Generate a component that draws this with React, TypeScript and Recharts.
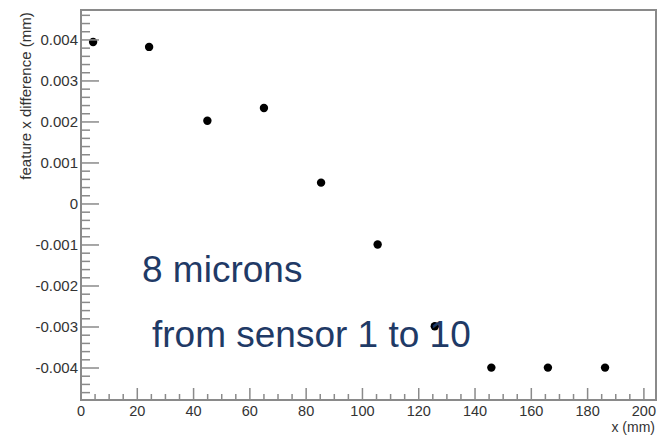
import React from 'react';
import {ReferenceArea, Scatter, ScatterChart, XAxis, YAxis} from 'recharts';

// sensor positions (mm) and measured feature x difference (mm)
const sensorX = [4.3, 24.2, 44.9, 65.0, 85.3, 105.4, 125.7, 145.8, 165.9, 186.2];
const featureDiff = [
  0.00395, 0.00383, 0.00203, 0.00234, 0.00052, -0.00099, -0.00298, -0.00399,
  -0.00399, -0.00399,
];

const xMajorTicks = [0, 20, 40, 60, 80, 100, 120, 140, 160, 180, 200];
const yMajorTicks = [-0.004, -0.003, -0.002, -0.001, 0, 0.001, 0.002, 0.003, 0.004];
const yTickLabels = ['-0.004', '-0.003', '-0.002', '-0.001', '0', '0.001', '0.002', '0.003', '0.004'];

const xDomain = [0, 204.3];
const yDomain = [-0.00478, 0.00473];

// minor ticks every 5 mm / every 0.0002 mm, majors keep labels
const xTicks = Array.from({length: 41}, (_, i) => i * 5);
const yTicks = Array.from({length: 47}, (_, i) => Math.round((i - 23) * 2) / 10000);

const data = sensorX.map((x, i) => ({x, y: featureDiff[i]}));

const FRAME = '#8a8a8a';
const LABEL = '#333333';
const FONT = '"Liberation Sans", Arial, sans-serif';
const NOTE = '#1f3a66';

const XTick = (props: any) => {
  const {x, y, payload} = props;
  const v = payload.value;
  const major = xMajorTicks.includes(v);
  return (
    <g>
      <line x1={x} y1={y} x2={x} y2={y - (major ? 12 : 6)} stroke={FRAME} strokeWidth={1.5} />
      {major && (
        <text x={x} y={y + 16} textAnchor="middle" fontSize={14.5} fontFamily={FONT} fill={LABEL}>
          {v}
        </text>
      )}
    </g>
  );
};

const YTick = (props: any) => {
  const {x, y, payload} = props;
  const v = payload.value;
  const idx = yMajorTicks.findIndex((m) => Math.abs(m - v) < 1e-9);
  const major = idx >= 0;
  return (
    <g>
      <line x1={x} y1={y} x2={x + (major ? 18 : 9)} y2={y} stroke={FRAME} strokeWidth={1.5} />
      {major && (
        <text x={x - 3} y={y + 5} textAnchor="end" fontSize={15} fontFamily={FONT} fill={LABEL}>
          {yTickLabels[idx]}
        </text>
      )}
    </g>
  );
};

const Dot = (props: any) => <circle cx={props.cx} cy={props.cy} r={4.2} fill="#000" />;

export default function App() {
  return (
    <div style={{position: 'absolute', left: 0, top: 0, width: 660, height: 435, background: '#fff'}}>
      <ScatterChart width={660} height={435} margin={{top: 10, right: 4, bottom: 0, left: 0}}>
        <XAxis
          type="number"
          dataKey="x"
          domain={xDomain}
          ticks={xTicks}
          interval={0}
          tickSize={0}
          tickMargin={0}
          tickLine={false}
          axisLine={false}
          tick={XTick}
          height={35}
          allowDataOverflow
        />
        <YAxis
          type="number"
          dataKey="y"
          domain={yDomain}
          ticks={yTicks}
          interval={0}
          tickSize={0}
          tickMargin={0}
          tickLine={false}
          axisLine={false}
          tick={YTick}
          width={81}
          allowDataOverflow
        />
        <ReferenceArea
          x1={xDomain[0]}
          x2={xDomain[1]}
          y1={yDomain[0]}
          y2={yDomain[1]}
          fill="none"
          stroke={FRAME}
          strokeWidth={2}
        />
        <Scatter data={data} shape={Dot} isAnimationActive={false} />
      </ScatterChart>
      <svg
        width={660}
        height={435}
        style={{position: 'absolute', left: 0, top: 0, pointerEvents: 'none'}}
      >
        <text
          transform="translate(30.5,96) rotate(-90)"
          textAnchor="middle"
          fontSize={15}
          fontFamily={FONT}
          fill={LABEL}
        >
          feature x difference (mm)
        </text>
        <text x={655} y={432} textAnchor="end" fontSize={14} fontFamily={FONT} fill={LABEL}>
          x (mm)
        </text>
        <text x={142} y={282} fontSize={37} fontFamily={FONT} fill={NOTE}>
          8 microns
        </text>
        <text x={152} y={347} fontSize={37} fontFamily={FONT} fill={NOTE}>
          from sensor 1 to 10
        </text>
      </svg>
    </div>
  );
}
